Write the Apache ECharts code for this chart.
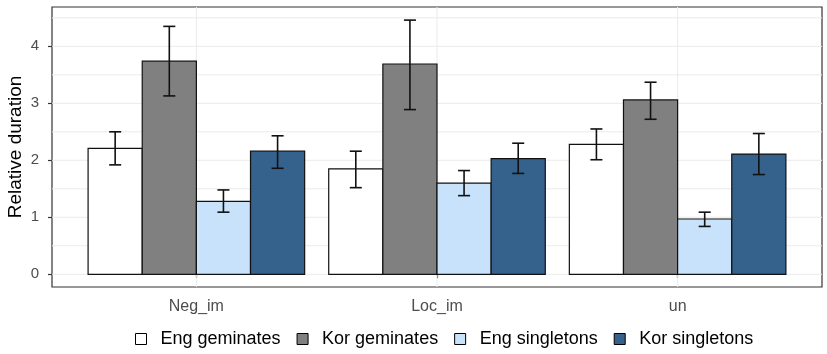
<!DOCTYPE html>
<html>
<head>
<meta charset="utf-8">
<script src="https://cdn.jsdelivr.net/npm/echarts@6/dist/echarts.min.js"></script>
<style>
  html, body { margin: 0; padding: 0; background: #fff; }
  #chart { width: 827px; height: 354px; }
</style>
</head>
<body>
<div id="chart"></div>
<script>
const categories = ['Neg_im', 'Loc_im', 'un'];
const groups = ['Eng geminates', 'Kor geminates', 'Eng singletons', 'Kor singletons'];
const colors = ['#ffffff', '#808080', '#c8e2fc', '#35628c'];

// mean, lower, upper per category
const engGem = [2.21, 1.85, 2.28];
const engGemLow = [1.92, 1.52, 2.01];
const engGemHigh = [2.50, 2.16, 2.55];

const korGem = [3.74, 3.69, 3.06];
const korGemLow = [3.13, 2.89, 2.72];
const korGemHigh = [4.35, 4.46, 3.37];

const engSing = [1.28, 1.60, 0.97];
const engSingLow = [1.09, 1.38, 0.84];
const engSingHigh = [1.48, 1.82, 1.09];

const korSing = [2.16, 2.03, 2.11];
const korSingLow = [1.86, 1.77, 1.75];
const korSingHigh = [2.43, 2.30, 2.47];

const yTicks = [0, 1, 2, 3, 4];
const yGrid = [0, 0.5, 1, 1.5, 2, 2.5, 3, 3.5, 4, 4.5];
const xTicks = [1, 2, 3];

const means = [engGem, korGem, engSing, korSing];
const lows = [engGemLow, korGemLow, engSingLow, korSingLow];
const highs = [engGemHigh, korGemHigh, engSingHigh, korSingHigh];

const dodge = 0.9;
const barW = dodge / groups.length;
const capW = 0.05;
const font = "'Liberation Sans', Arial, sans-serif";

function barSeries(gi) {
  const offset = -dodge / 2 + barW * (gi + 0.5);
  return {
    name: groups[gi],
    type: 'custom',
    z: 3,
    itemStyle: { color: colors[gi], borderColor: '#000', borderWidth: 1 },
    data: categories.map((c, i) => [i + 1, means[gi][i], lows[gi][i], highs[gi][i]]),
    renderItem: function (params, api) {
      const x = api.value(0) + offset;
      const tl = api.coord([x - barW / 2, api.value(1)]);
      const br = api.coord([x + barW / 2, 0]);
      const lo = api.coord([x, api.value(2)]);
      const hi = api.coord([x, api.value(3)]);
      const half = api.size([capW, 0])[0] / 2;
      const line = { stroke: '#111', lineWidth: 1.6 };
      return {
        type: 'group',
        children: [
          { type: 'rect', shape: { x: tl[0], y: tl[1], width: br[0] - tl[0], height: br[1] - tl[1] },
            style: { fill: colors[gi], stroke: '#111', lineWidth: 1.2 } },
          { type: 'line', shape: { x1: lo[0], y1: lo[1], x2: hi[0], y2: hi[1] }, style: line },
          { type: 'line', shape: { x1: lo[0] - half, y1: lo[1], x2: lo[0] + half, y2: lo[1] }, style: line },
          { type: 'line', shape: { x1: hi[0] - half, y1: hi[1], x2: hi[0] + half, y2: hi[1] }, style: line }
        ]
      };
    }
  };
}

const chart = echarts.init(document.getElementById('chart'));

const option = {
  animation: false,
  grid: {
    left: 52, right: 5, top: 7, bottom: 67,
    outerBoundsMode: 'none',
    show: true, borderColor: '#333', borderWidth: 1.2, backgroundColor: '#fff'
  },
  legend: {
    data: groups,
    left: 135,
    top: 330,
    padding: 0,
    itemWidth: 11,
    itemHeight: 11,
    itemGap: 16,
    icon: 'rect',
    itemStyle: { borderColor: '#000', borderWidth: 1 },
    textStyle: { fontFamily: font, fontSize: 18, color: '#000', padding: [0, 0, 0, 9] }
  },
  xAxis: {
    type: 'value',
    min: 0.4,
    max: 3.6,
    axisLine: { show: false },
    splitLine: { show: false },
    axisTick: { customValues: xTicks, length: 4, lineStyle: { color: '#333', width: 1.2 } },
    axisLabel: {
      customValues: xTicks,
      formatter: v => categories[Math.round(v) - 1],
      fontFamily: font, fontSize: 16, color: '#4d4d4d', margin: 12
    }
  },
  yAxis: {
    type: 'value',
    min: -0.223,
    max: 4.69,
    name: 'Relative duration',
    nameLocation: 'middle',
    nameGap: 27,
    nameMoveOverlap: false,
    nameTextStyle: { fontFamily: font, fontSize: 19, color: '#000' },
    axisLine: { show: false },
    splitLine: { show: false },
    axisTick: { customValues: yTicks, length: 4, lineStyle: { color: '#333', width: 1.2 } },
    axisLabel: { customValues: yTicks, fontFamily: font, fontSize: 15, color: '#4d4d4d', margin: 13 }
  },
  series: [
    {
      type: 'custom',
      silent: true,
      z: 1,
      data: yGrid.map(v => [v]),
      renderItem: function (params, api) {
        const a = api.coord([0.4, api.value(0)]);
        const b = api.coord([3.6, api.value(0)]);
        return { type: 'line', shape: { x1: a[0], y1: a[1], x2: b[0], y2: b[1] },
          style: { stroke: '#ebebeb', lineWidth: 1 } };
      }
    },
    {
      type: 'custom',
      silent: true,
      z: 1,
      data: xTicks.map(v => [v]),
      renderItem: function (params, api) {
        const a = api.coord([api.value(0), -0.223]);
        const b = api.coord([api.value(0), 4.69]);
        return { type: 'line', shape: { x1: a[0], y1: a[1], x2: b[0], y2: b[1] },
          style: { stroke: '#ebebeb', lineWidth: 1 } };
      }
    },
    barSeries(0),
    barSeries(1),
    barSeries(2),
    barSeries(3)
  ]
};

chart.setOption(option);
</script>
</body>
</html>
